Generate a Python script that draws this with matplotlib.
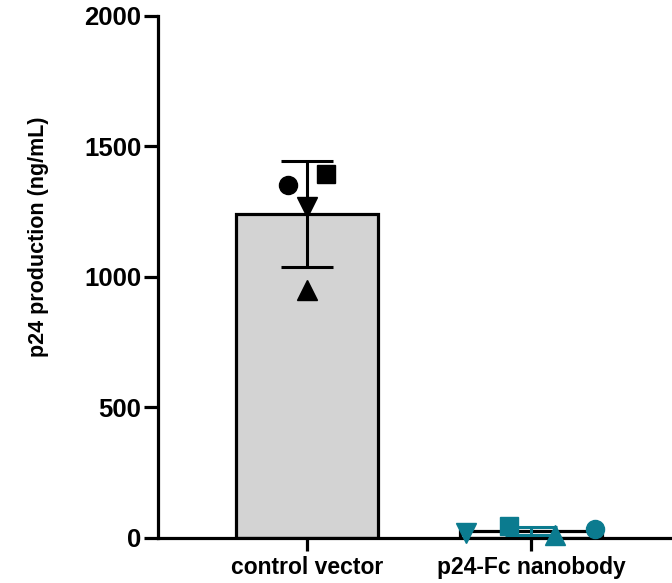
import numpy as np
import matplotlib
matplotlib.use("Agg")
import matplotlib.pyplot as plt

plt.rcParams['font.family'] = ['Liberation Sans', 'DejaVu Sans']
plt.rcParams['font.weight'] = 'bold'

# data
groups = ["control vector", "p24-Fc nanobody"]
colors = ["black", "#0B7B8F"]
bar_fill = ["#D3D3D3", "white"]
replicates = [
    [1352, 1395, 1268, 950],   # circle, square, down-triangle, up-triangle
    [34, 46, 19, 11],
]
markers = ["o", "s", "v", "^"]
jitter = [
    [-0.085, 0.085, 0.0, 0.0],
    [0.286, -0.098, -0.29, 0.107],
]

means = [np.mean(r) for r in replicates]
sds = [np.std(r, ddof=1) for r in replicates]

fig = plt.figure(figsize=(6.72, 5.83), dpi=100)
ax = fig.add_axes([0.235, 0.0772, 0.765, 0.8954])

x = np.arange(len(groups))
ax.bar(x, means, width=0.634, color=bar_fill, edgecolor="black",
       linewidth=2.3, zorder=2)

for i in range(len(groups)):
    ax.errorbar(x[i], means[i], yerr=sds[i], color=colors[i], capsize=18.5,
                elinewidth=2.2, capthick=2.2, zorder=3)
    for j, val in enumerate(replicates[i]):
        ms = 14 if markers[j] in ("v", "^") else 13
        ax.plot(x[i] + jitter[i][j], val, marker=markers[j], color=colors[i],
                markersize=ms, linestyle="none", zorder=4, clip_on=False)

ax.set_xlim(-0.665, 1.63)
ax.set_ylim(0, 2000)
ax.set_yticks([0, 500, 1000, 1500, 2000])
ax.set_xticks(x)
ax.set_xticklabels(groups, fontsize=16.5, fontweight="bold")
ax.tick_params(axis="y", labelsize=18.5, length=10, width=2.3, pad=2)
ax.tick_params(axis="x", length=9, width=2.3, pad=4)
for lbl in ax.get_yticklabels():
    lbl.set_fontweight("bold")

ax.set_ylabel("p24 production (ng/mL)", fontsize=15.5, fontweight="bold")
ax.yaxis.set_label_coords(-0.212, 0.577)

ax.spines["top"].set_visible(False)
ax.spines["right"].set_visible(False)
ax.spines["left"].set_linewidth(2.3)
ax.spines["bottom"].set_linewidth(2.3)

fig.savefig("out.png", dpi=100)
